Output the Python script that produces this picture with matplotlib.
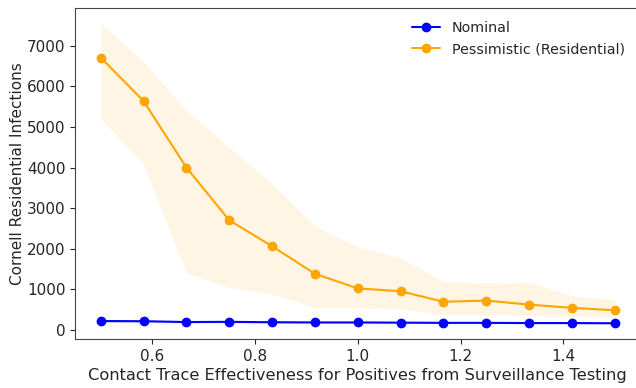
import numpy as np
import seaborn as sns
from matplotlib import pyplot as plt

# contact trace effectiveness values (13 points from 0.5 to 1.5)
x = [0.5, 0.5833, 0.6667, 0.75, 0.8333, 0.9167, 1.0, 1.0833, 1.1667, 1.25, 1.3333, 1.4167, 1.5]

nominal = [215, 210, 190, 195, 185, 180, 180, 175, 170, 170, 165, 165, 160]
nominal_lo = [185, 180, 165, 170, 160, 155, 155, 150, 148, 148, 145, 145, 140]
nominal_hi = [250, 245, 220, 225, 215, 210, 210, 205, 200, 200, 195, 195, 190]

pessimistic = [6710, 5640, 4000, 2700, 2060, 1380, 1020, 950, 690, 720, 620, 540, 480]
pessimistic_lo = [5200, 4090, 1400, 1040, 880, 550, 550, 510, 380, 370, 350, 330, 310]
pessimistic_hi = [7560, 6610, 5410, 4500, 3600, 2560, 2040, 1770, 1190, 1150, 1170, 840, 740]

sns.set_style("ticks")
plt.rcParams['font.family'] = ['DejaVu Sans']

fig = plt.figure(figsize=(6.36, 3.88), dpi=100)
ax = fig.add_axes([0.118, 0.126, 0.889, 0.853])

ax.plot(x, nominal, c='blue', marker='o', markersize=6, label="Nominal")
ax.fill_between(x, nominal_lo, nominal_hi, color='blue', alpha=0.1, linewidth=0)
ax.plot(x, pessimistic, c='orange', marker='o', markersize=6, label="Pessimistic (Residential)")
ax.fill_between(x, pessimistic_lo, pessimistic_hi, color='orange', alpha=0.1, linewidth=0)

ax.set_xlabel("Contact Trace Effectiveness for Positives from Surveillance Testing", fontsize=11.7, color='#262626', labelpad=3)
ax.set_ylabel("Cornell Residential Infections", fontsize=11.0, color='#262626', labelpad=1)
ax.tick_params(axis="both", which="major", labelsize=11, colors='#262626')
for s in ax.spines.values():
    s.set_color('#444444')
ax.set_xticks([0.6, 0.8, 1.0, 1.2, 1.4])
ax.set_yticks(range(0, 8000, 1000))
ax.legend(loc='upper right', bbox_to_anchor=(0.995, 1.0), frameon=False, fontsize=10.3)

fig.savefig("out.png", dpi=100)
